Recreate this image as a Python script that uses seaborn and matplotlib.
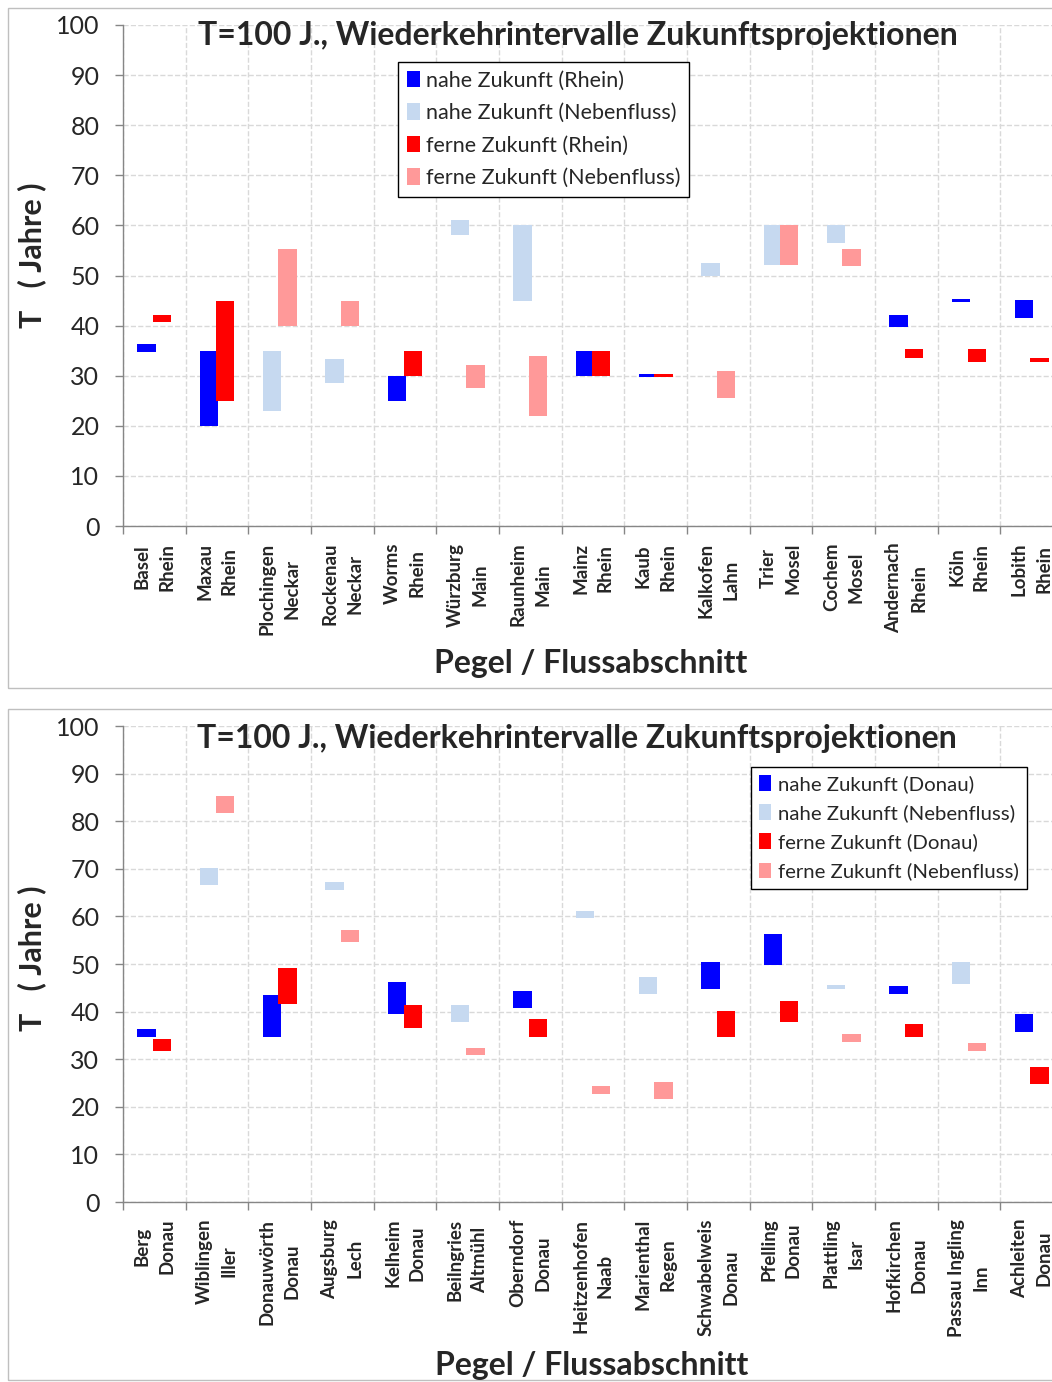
import numpy as np
import pandas as pd
import matplotlib
matplotlib.use('Agg')
import matplotlib.pyplot as plt
from matplotlib.patches import Rectangle
import seaborn as sns

# Rhein und Nebenfluesse
rhein_stations = ['Basel', 'Maxau', 'Plochingen', 'Rockenau', 'Worms', 'Würzburg', 'Raunheim', 'Mainz',
                  'Kaub', 'Kalkofen', 'Trier', 'Cochem', 'Andernach', 'Köln', 'Lobith']
rhein_rivers = ['Rhein', 'Rhein', 'Neckar', 'Neckar', 'Rhein', 'Main', 'Main', 'Rhein',
                'Rhein', 'Lahn', 'Mosel', 'Mosel', 'Rhein', 'Rhein', 'Rhein']
rhein_near_low = [34.7, 20.0, 23.0, 28.5, 25.0, 58.0, 45.0, 30.0, 29.7, 50.0, 52.0, 56.5, 39.8, 44.8, 41.6]
rhein_near_high = [36.3, 35.0, 35.0, 33.3, 30.0, 61.0, 60.0, 35.0, 30.4, 52.5, 60.0, 60.0, 42.2, 45.4, 45.2]
rhein_far_low = [40.8, 25.0, 40.0, 40.0, 30.0, 27.5, 22.0, 30.0, 29.7, 25.5, 52.0, 51.8, 33.5, 32.8, 32.8]
rhein_far_high = [42.2, 45.0, 55.3, 45.0, 35.0, 32.2, 34.0, 35.0, 30.4, 31.0, 60.0, 55.2, 35.3, 35.3, 33.5]

# Donau und Nebenfluesse
donau_stations = ['Berg', 'Wiblingen', 'Donauwörth', 'Augsburg', 'Kelheim', 'Beilngries', 'Oberndorf',
                  'Heitzenhofen', 'Marienthal', 'Schwabelweis', 'Pfelling', 'Plattling', 'Hofkirchen',
                  'Passau Ingling', 'Achleiten']
donau_rivers = ['Donau', 'Iller', 'Donau', 'Lech', 'Donau', 'Altmühl', 'Donau', 'Naab', 'Regen',
                'Donau', 'Donau', 'Isar', 'Donau', 'Inn', 'Donau']
donau_near_low = [34.7, 66.6, 34.7, 65.5, 39.6, 37.8, 40.8, 59.7, 43.7, 44.8, 49.7, 44.8, 43.6, 45.7, 35.7]
donau_near_high = [36.4, 70.2, 43.4, 67.3, 46.2, 41.4, 44.4, 61.2, 47.2, 50.4, 56.3, 45.6, 45.4, 50.4, 39.4]
donau_far_low = [31.7, 81.7, 41.7, 54.6, 36.6, 30.8, 34.6, 22.7, 21.7, 34.6, 37.8, 33.7, 34.6, 31.7, 24.7]
donau_far_high = [34.3, 85.2, 49.1, 57.1, 41.3, 32.3, 38.5, 24.4, 25.3, 40.2, 42.3, 35.2, 37.3, 33.5, 28.3]

W, H = 1052, 1382
FONT = ['Lato', 'DejaVu Sans']
clrs = {('nahe', True): '#0000FF', ('nahe', False): '#C6D9F0',
        ('ferne', True): '#FF0000', ('ferne', False): '#FF9999'}
offsets = {'nahe': -0.125, 'ferne': 0.125}

sns.set_theme(style='white')
plt.rcParams['font.family'] = FONT


def draw_panel(ax, stations, rivers, main, near_low, near_high, far_low, far_high):
    labels = ['{0}\n{1}'.format(s, r) for s, r in zip(stations, rivers)]
    df = pd.DataFrame({
        'label': labels * 2,
        'period': ['nahe'] * len(labels) + ['ferne'] * len(labels),
        'is_main': [r == main for r in rivers] * 2,
        'low': near_low + far_low,
        'high': near_high + far_high,
    })
    df['height'] = df['high'] - df['low']

    handles = []
    names = []
    for period, is_main in [('nahe', True), ('nahe', False), ('ferne', True), ('ferne', False)]:
        sub = df[(df.period == period) & (df.is_main == is_main)]
        sns.barplot(data=sub, x='label', y='height', order=labels, bottom=sub['low'].values,
                    color=clrs[(period, is_main)], saturation=1, width=0.29, errorbar=None,
                    linewidth=0, ax=ax)
        cont = ax.containers[-1]
        for p in cont:
            p.set_x(p.get_x() + offsets[period])
        handles.append(cont)
        names.append('{0} Zukunft ({1})'.format(period, main if is_main else 'Nebenfluss'))

    ax.set_ylim(0, 100)
    ax.set_xlim(-0.5, len(labels) - 0.5)
    ax.set_yticks(np.arange(0, 101, 10))
    ax.set_xticks(np.arange(len(labels)))
    ax.set_xticks(np.arange(-0.5, len(labels), 1), minor=True)
    ax.set_xticklabels(labels, rotation=90, fontweight='bold', fontsize=13.5,
                       ha='center', va='top', multialignment='center', linespacing=1.55)
    ax.tick_params(axis='x', which='major', length=0, pad=12)
    ax.tick_params(axis='x', which='minor', length=6, color='#868686', width=1, bottom=True)
    ax.tick_params(axis='y', which='major', length=6, color='#868686', width=1, left=True,
                   labelsize=18, pad=11)
    ax.grid(True, which='minor', axis='x', ls='--', color='#D9D9D9', lw=1)
    ax.grid(True, which='major', axis='y', ls='--', color='#D9D9D9', lw=1)
    ax.grid(False, which='major', axis='x')
    ax.set_axisbelow(True)
    ax.set_xlabel('')
    ax.set_ylabel('')
    for s in ['top', 'right']:
        ax.spines[s].set_visible(False)
    for s in ['left', 'bottom']:
        ax.spines[s].set_color('#868686')
        ax.spines[s].set_linewidth(1)
    return handles, names


fig = plt.figure(figsize=(W / 100, H / 100), dpi=100)
ax1 = fig.add_axes([123 / W, 1 - 526 / H, 940 / W, 501 / H])
ax2 = fig.add_axes([123 / W, 1 - 1202 / H, 940 / W, 476 / H])

h1, n1 = draw_panel(ax1, rhein_stations, rhein_rivers, 'Rhein',
                    rhein_near_low, rhein_near_high, rhein_far_low, rhein_far_high)
h2, n2 = draw_panel(ax2, donau_stations, donau_rivers, 'Donau',
                    donau_near_low, donau_near_high, donau_far_low, donau_far_high)

legend_kw = dict(loc='upper left', bbox_transform=fig.transFigure, borderaxespad=0,
                 frameon=True, fancybox=False, framealpha=1, edgecolor='black',
                 handlelength=0.6, handleheight=0.8, handletextpad=0.3, borderpad=0.4)
leg1 = ax1.legend(h1, n1, bbox_to_anchor=(398 / W, 1 - 62 / H), fontsize=15.5,
                  labelspacing=0.58, **legend_kw)
leg2 = ax2.legend(h2, n2, bbox_to_anchor=(751 / W, 1 - 767 / H), fontsize=14.7,
                  labelspacing=0.55, **legend_kw)
for leg in [leg1, leg2]:
    leg.get_frame().set_linewidth(1)

title = 'T=100 J., Wiederkehrintervalle Zukunftsprojektionen'
fig.text(578 / W, 1 - 36 / H, title, ha='center', va='center', fontsize=23, fontweight='bold')
fig.text(577 / W, 1 - 738 / H, title, ha='center', va='center', fontsize=23, fontweight='bold')
fig.text(591 / W, 1 - 663 / H, 'Pegel / Flussabschnitt', ha='center', va='center',
         fontsize=23, fontweight='bold')
fig.text(592 / W, 1 - 1365 / H, 'Pegel / Flussabschnitt', ha='center', va='center',
         fontsize=23, fontweight='bold')
fig.text(32 / W, 1 - 255 / H, 'T   ( Jahre )', ha='center', va='center', rotation=90,
         fontsize=22, fontweight='bold')
fig.text(32 / W, 1 - 958 / H, 'T   ( Jahre )', ha='center', va='center', rotation=90,
         fontsize=22, fontweight='bold')

# Rahmen der beiden Diagramme
fig.add_artist(Rectangle((8 / W, 1 - 688 / H), 1.0, 680 / H, transform=fig.transFigure,
                         fill=False, edgecolor='#BFBFBF', lw=1))
fig.add_artist(Rectangle((8 / W, 1 - 1380 / H), 1.0, 671 / H, transform=fig.transFigure,
                         fill=False, edgecolor='#BFBFBF', lw=1))

plt.savefig('out.png', dpi=100)
